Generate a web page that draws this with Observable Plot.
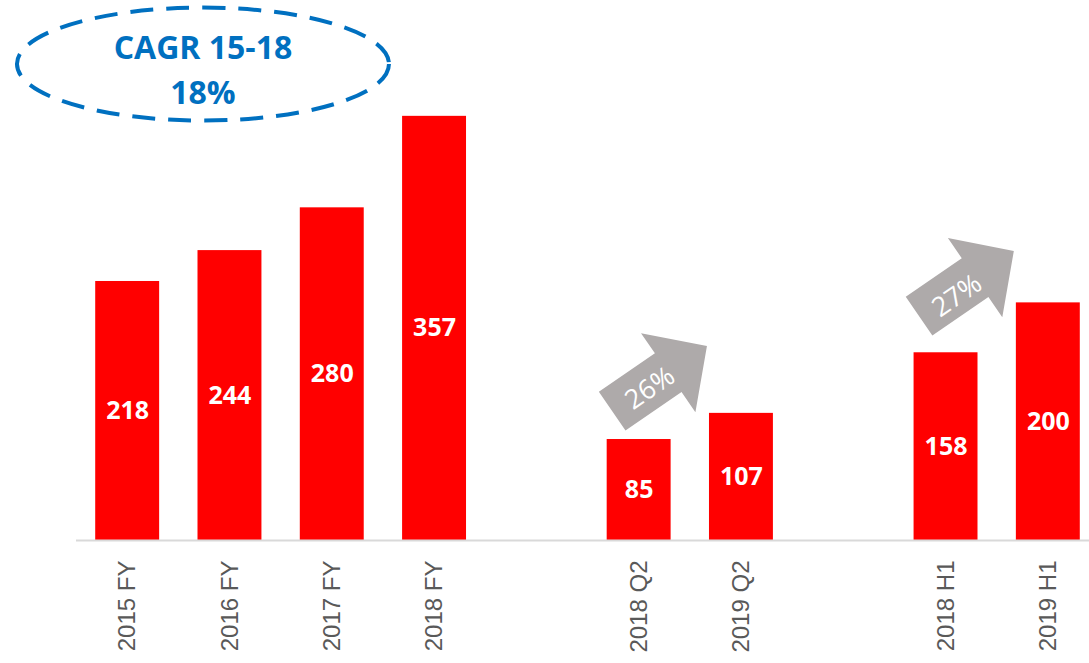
<!DOCTYPE html>
<html>
<head>
<meta charset="utf-8">
<script src="https://cdn.jsdelivr.net/npm/d3@7"></script>
<script src="https://cdn.jsdelivr.net/npm/@observablehq/plot@0.6"></script>
<style>
  html, body { margin: 0; padding: 0; background: #ffffff; }
  #chart { width: 1089px; height: 663px; overflow: hidden; }
</style>
</head>
<body>
<div id="chart"></div>
<script>
// ---- data ----
const periods = ["2015 FY", "2016 FY", "2017 FY", "2018 FY", "2018 Q2", "2019 Q2", "2018 H1", "2019 H1"];
const revenue = [218, 244, 280, 357, 85, 107, 158, 200];
const gapKeys = ["gap1", "gap2"];

// growth arrows (annotation)
const growthFrom = ["2018 Q2", "2018 H1"];
const growthLabels = ["26%", "27%"];
const growthArrowLevel = [136, 216];
const growthLabelLevel = [128, 206];

// CAGR annotation
const cagrText = "CAGR 15-18\n18%";
const cagrAnchor = "2016 FY";
const cagrLevel = 401;

// ---- build ----
const domain = [...periods.slice(0, 4), gapKeys[0], ...periods.slice(4, 6), gapKeys[1], ...periods.slice(6)];
const bars = periods.map((p, i) => ({period: p, value: revenue[i]}));
const arrows = growthFrom.map((p, i) => ({period: p, level: growthArrowLevel[i], labelLevel: growthLabelLevel[i], label: growthLabels[i]}));

const arrowSymbol = {
  draw(ctx) {
    ctx.moveTo(-57, -23.5);
    ctx.lineTo(11, -23.5);
    ctx.lineTo(11, -48);
    ctx.lineTo(58, 0);
    ctx.lineTo(11, 48);
    ctx.lineTo(11, 23.5);
    ctx.lineTo(-57, 23.5);
    ctx.closePath();
  }
};
const ellipseSymbol = {
  draw(ctx) {
    const rx = 186, ry = 56.5, k = 0.5523;
    ctx.moveTo(rx, 0);
    ctx.bezierCurveTo(rx, ry * k, rx * k, ry, 0, ry);
    ctx.bezierCurveTo(-rx * k, ry, -rx, ry * k, -rx, 0);
    ctx.bezierCurveTo(-rx, -ry * k, -rx * k, -ry, 0, -ry);
    ctx.bezierCurveTo(rx * k, -ry, rx, -ry * k, rx, 0);
    ctx.closePath();
  }
};

const chart = Plot.plot({
  width: 1089,
  height: 663,
  marginTop: 0,
  marginBottom: 123,
  marginLeft: 76,
  marginRight: 0,
  style: {fontFamily: "'Liberation Sans', Arial, sans-serif", background: "#ffffff"},
  x: {domain, range: [86, 1089], paddingInner: 0.375, paddingOuter: 0.09, round: false, axis: null},
  y: {domain: [0, 454.5], axis: null},
  marks: [
    Plot.barY(bars, {x: "period", y: "value", fill: "#FF0000"}),
    Plot.ruleY([0], {stroke: "#D9D9D9", strokeWidth: 2}),
    Plot.axisX({ticks: periods, tickRotate: -90, tickSize: 0, tickPadding: 20, fontSize: 24, color: "#595959", label: null}),
    Plot.text(bars, {x: "period", y: d => d.value / 2, text: d => String(d.value), fill: "#FFFFFF", fontSize: 25, fontWeight: "bold", fontFamily: "'Open Sans', sans-serif"}),
    Plot.dot(arrows, {x: "period", y: "level", dx: 20, symbol: arrowSymbol, r: 10, fill: "#AEAAAA", stroke: "none", rotate: -34.5}),
    Plot.text(arrows, {x: "period", y: "labelLevel", dx: 11, text: "label", rotate: -34.5, fill: "#FFFFFF", fontSize: 27, fontFamily: "'Open Sans', sans-serif"}),
    Plot.dot([cagrText], {x: () => cagrAnchor, y: () => cagrLevel, dx: -27, symbol: ellipseSymbol, r: 10, fill: "none", stroke: "#0070C0", strokeWidth: 4, strokeDasharray: "23,13"}),
    Plot.text([cagrText], {x: () => cagrAnchor, y: () => cagrLevel, dx: -27, dy: 3, text: d => d, lineHeight: 1.4, fill: "#0070C0", fontSize: 32, fontWeight: "bold", fontFamily: "'Open Sans', sans-serif"})
  ]
});
document.getElementById("chart").appendChild(chart);
</script>
</body>
</html>
